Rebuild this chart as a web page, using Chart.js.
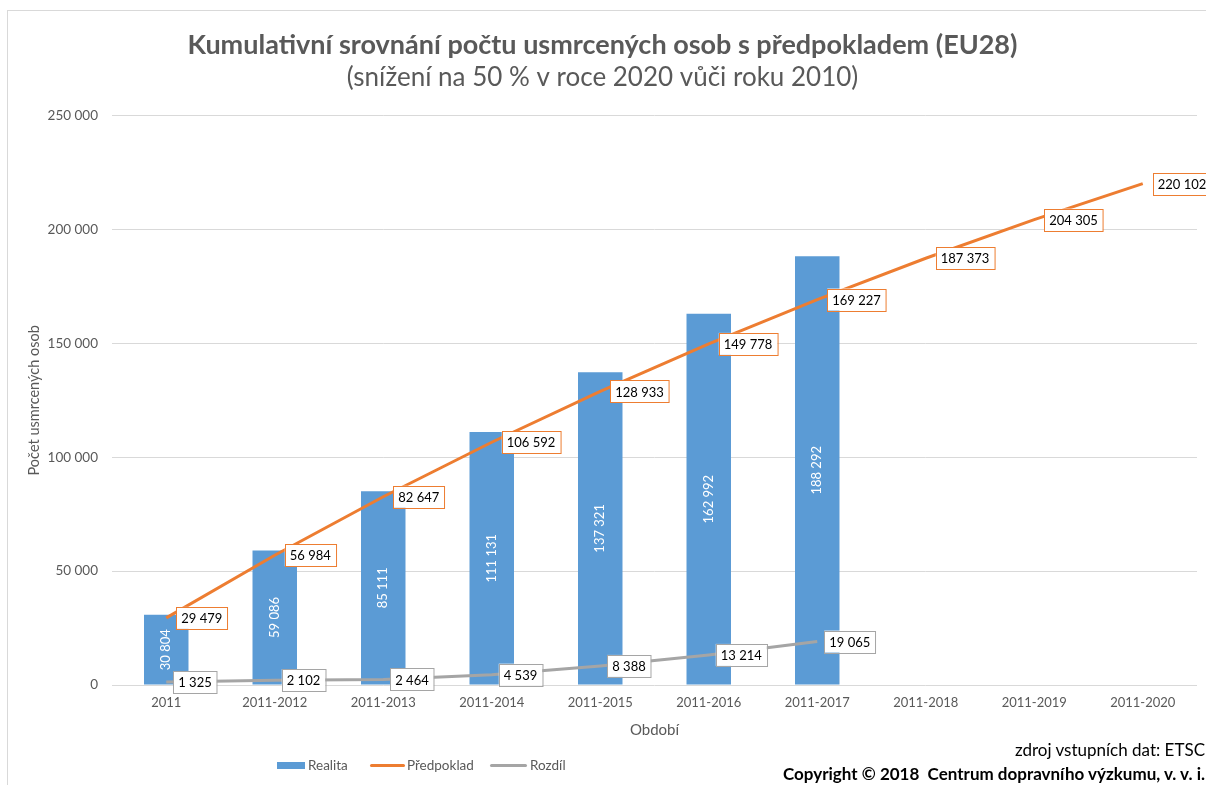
<!DOCTYPE html>
<html lang="cs">
  <head>
    <meta charset="UTF-8" />
    <title>Kumulativní srovnání počtu usmrcených osob</title>
    <style>
      body {
        margin: 0;
        background: #ffffff;
        font-family: Lato, sans-serif;
      }
      .wrap {
        position: relative;
        width: 1206px;
        height: 785px;
        overflow: hidden;
      }
      .frame {
        position: absolute;
        left: 7px;
        top: 10px;
        right: -2px;
        bottom: -2px;
        border-top: 1px solid #d9d9d9;
        border-left: 1px solid #d9d9d9;
        pointer-events: none;
      }
      .legend i {
        position: absolute;
        display: block;
      }
      .legend span {
        position: absolute;
        top: 757px;
        font-size: 13.5px;
        line-height: 16px;
        color: #595959;
      }
      .source {
        position: absolute;
        right: 1px;
        top: 738px;
        text-align: right;
        font-size: 17px;
        color: #000;
        line-height: 24px;
      }
      .source b { font-weight: bold; }
    </style>
  </head>
  <body>
    <div class="wrap">
      <canvas id="chart" width="1206" height="785"></canvas>
      <div class="frame"></div>
      <div class="legend">
        <i style="left:277px;top:762px;width:28px;height:7px;background:#5b9bd5"></i>
        <span style="left:308px">Realita</span>
        <i style="left:370px;top:764px;width:35px;height:3px;background:#ed7d31;border-radius:2px"></i>
        <span style="left:407px">Předpoklad</span>
        <i style="left:490px;top:764px;width:37px;height:3px;background:#a5a5a5;border-radius:2px"></i>
        <span style="left:530px">Rozdíl</span>
      </div>
      <div class="source">
        zdroj vstupních dat: ETSC<br />
        <b>Copyright © 2018&nbsp; Centrum dopravního výzkumu, v. v. i.</b>
      </div>
    </div>

    <script src="https://cdn.jsdelivr.net/npm/chart.js"></script>
    <script>
      // data
      const periods = [
        "2011", "2011-2012", "2011-2013", "2011-2014", "2011-2015",
        "2011-2016", "2011-2017", "2011-2018", "2011-2019", "2011-2020",
      ];
      const realita = [30804, 59086, 85111, 111131, 137321, 162992, 188292, null, null, null];
      const predpoklad = [29479, 56984, 82647, 106592, 128933, 149778, 169227, 187373, 204305, 220102];
      const rozdil = [1325, 2102, 2464, 4539, 8388, 13214, 19065, null, null, null];
      const yTicks = [0, 50000, 100000, 150000, 200000, 250000];

      const fmt = (v) => String(v).replace(/\B(?=(\d{3})+(?!\d))/g, " ");

      // value labels (no datalabels plugin available offline)
      const valueLabels = {
        id: "valueLabels",
        afterDatasetsDraw(chart) {
          const ctx = chart.ctx;
          ctx.save();
          chart.data.datasets.forEach((ds, i) => {
            const meta = chart.getDatasetMeta(i);
            meta.data.forEach((el, j) => {
              const v = ds.data[j];
              if (v == null) return;
              const text = fmt(v);
              if (ds.type === "line") {
                ctx.font = "13px Lato";
                const w = ctx.measureText(text).width + 10;
                const h = 22;
                const x = el.x + (ds.label === "Rozdíl" ? 7 : 10);
                const y = el.y - h / 2;
                ctx.fillStyle = "#ffffff";
                ctx.fillRect(x, y, w, h);
                ctx.strokeStyle = ds.borderColor;
                ctx.lineWidth = 1;
                ctx.strokeRect(Math.round(x) + 0.5, Math.round(y) + 0.5, w, h);
                ctx.fillStyle = "#000000";
                ctx.textAlign = "left";
                ctx.textBaseline = "middle";
                ctx.fillText(text, x + 5, el.y + 1);
              } else {
                ctx.font = "13px Lato";
                ctx.fillStyle = "#ffffff";
                ctx.textAlign = "center";
                ctx.textBaseline = "middle";
                ctx.translate(el.x, (el.y + el.base) / 2);
                ctx.rotate(-Math.PI / 2);
                ctx.fillText(text, 0, 0);
                ctx.setTransform(1, 0, 0, 1, 0, 0);
              }
            });
          });
          ctx.restore();
        },
      };

      new Chart(document.getElementById("chart"), {
        type: "bar",
        data: {
          labels: periods,
          datasets: [
            {
              label: "Předpoklad",
              type: "line",
              data: predpoklad,
              borderColor: "#ed7d31",
              backgroundColor: "#ed7d31",
              borderWidth: 3,
              pointRadius: 0,
              tension: 0,
              order: 1,
            },
            {
              label: "Rozdíl",
              type: "line",
              data: rozdil,
              borderColor: "#a5a5a5",
              backgroundColor: "#a5a5a5",
              borderWidth: 3,
              pointRadius: 0,
              tension: 0,
              order: 2,
            },
            {
              label: "Realita",
              data: realita,
              backgroundColor: "#5b9bd5",
              categoryPercentage: 1,
              barPercentage: 0.41,
              order: 3,
            },
          ],
        },
        options: {
          responsive: false,
          animation: false,
          layout: { padding: { left: 8, right: 9, top: 0, bottom: 45 } },
          plugins: {
            legend: { display: false },
            tooltip: { enabled: false },
            title: {
              display: true,
              text: "Kumulativní srovnání počtu usmrcených osob s předpokladem (EU28)",
              color: "#595959",
              font: { family: "Lato", size: 27, weight: "bold" },
              padding: { top: 29, bottom: 1 },
            },
            subtitle: {
              display: true,
              text: "(snížení na 50 % v roce 2020 vůči roku 2010)",
              color: "#595959",
              font: { family: "Lato", size: 26, weight: "normal" },
              padding: { top: 0, bottom: 22 },
            },
          },
          scales: {
            x: {
              grid: { display: false, drawTicks: false },
              border: { display: false },
              ticks: { color: "#595959", font: { family: "Lato", size: 13 }, padding: 10, maxRotation: 0 },
              title: {
                display: true,
                text: "Období",
                color: "#595959",
                font: { family: "Lato", size: 15 },
                padding: { top: 0, bottom: 1 },
              },
              afterFit(scale) {
                scale.height = 55;
              },
            },
            y: {
              min: 0,
              max: 250000,
              afterBuildTicks(scale) {
                scale.ticks = yTicks.map((v) => ({ value: v }));
              },
              grid: { color: "#d9d9d9", drawTicks: false },
              border: { display: false },
              ticks: {
                color: "#595959",
                font: { family: "Lato", size: 13.5 },
                padding: 14,
                callback: (v) => fmt(v),
              },
              title: {
                display: true,
                text: "Počet usmrcených osob",
                color: "#595959",
                font: { family: "Lato", size: 14.5 },
                padding: { top: 18, bottom: 0 },
              },
              afterFit(scale) {
                scale.width = 104;
              },
            },
          },
        },
        plugins: [valueLabels],
      });
    </script>
  </body>
</html>
